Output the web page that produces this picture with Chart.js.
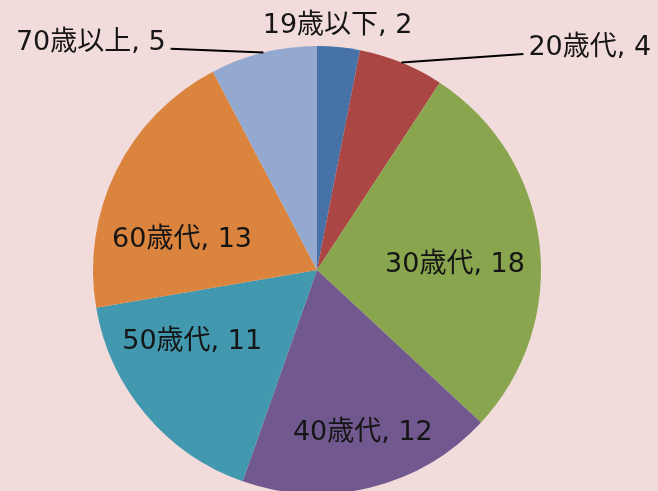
<!DOCTYPE html>
<html>
<head>
<meta charset="utf-8">
<script src="https://cdn.jsdelivr.net/npm/chart.js@4"></script>
<style>
  html, body { margin: 0; padding: 0; background: #F2DCDB; overflow: hidden; }
  #wrap { width: 658px; height: 491px; overflow: hidden; position: relative; }
</style>
</head>
<body>
<div id="wrap"><canvas id="c" width="658" height="494"></canvas></div>
<script>
const categories = ["19歳以下", "20歳代", "30歳代", "40歳代", "50歳代", "60歳代", "70歳以上"];
const counts = [2, 4, 18, 12, 11, 13, 5];
const colors = ["#4672A8", "#AA4643", "#89A54E", "#71588F", "#4198AF", "#DB843D", "#93A9CF"];

// where each label sits: angle (deg, clockwise from top) and radius factor
const labelSpots = [
  { a: 4.8, r: 1.10 },
  { a: 43.7, r: 1.334, leader: true, align: "left" },
  { a: 87.1, r: 0.617 },
  { a: 164.1, r: 0.747 },
  { a: 240.7, r: 0.639 },
  { a: 283.3, r: 0.619 },
  { a: 326.5, r: 1.184, leader: true, align: "right" },
];

const labelPlugin = {
  id: "pieLabels",
  afterDatasetsDraw(chart) {
    const ctx = chart.ctx;
    const arcs = chart.getDatasetMeta(0).data;
    ctx.save();
    ctx.font = "27px 'DejaVu Sans', 'Noto Sans CJK JP', sans-serif";
    ctx.fillStyle = "#151515";
    ctx.textBaseline = "middle";
    arcs.forEach((arc, i) => {
      const { x, y, outerRadius, startAngle, endAngle } = arc.getProps(["x", "y", "outerRadius", "startAngle", "endAngle"], true);
      const spot = labelSpots[i];
      const ang = spot.a * Math.PI / 180 - Math.PI / 2;
      const px = x + Math.cos(ang) * outerRadius * spot.r;
      const py = y + Math.sin(ang) * outerRadius * spot.r;
      const text = categories[i] + ", " + counts[i];
      if (spot.leader) {
        const mid = (startAngle + endAngle) / 2;
        const sx = x + Math.cos(mid) * outerRadius;
        const sy = y + Math.sin(mid) * outerRadius;
        ctx.strokeStyle = "#000";
        ctx.lineWidth = 2;
        ctx.beginPath();
        ctx.moveTo(sx, sy);
        ctx.lineTo(px, py);
        ctx.stroke();
        ctx.textAlign = spot.align;
        ctx.fillText(text, spot.align === "left" ? px + 5 : px - 5, py - 6);
      } else {
        ctx.textAlign = "center";
        ctx.fillText(text, px, py + 2);
      }
    });
    ctx.restore();
  }
};

new Chart(document.getElementById("c"), {
  type: "pie",
  data: {
    labels: categories,
    datasets: [{
      data: counts,
      backgroundColor: colors,
      borderWidth: 0,
    }]
  },
  options: {
    responsive: false,
    animation: false,
    layout: { padding: { top: 46, bottom: 0, left: 93, right: 117 } },
    plugins: { legend: { display: false }, tooltip: { enabled: false } },
  },
  plugins: [labelPlugin]
});
</script>
</body>
</html>
